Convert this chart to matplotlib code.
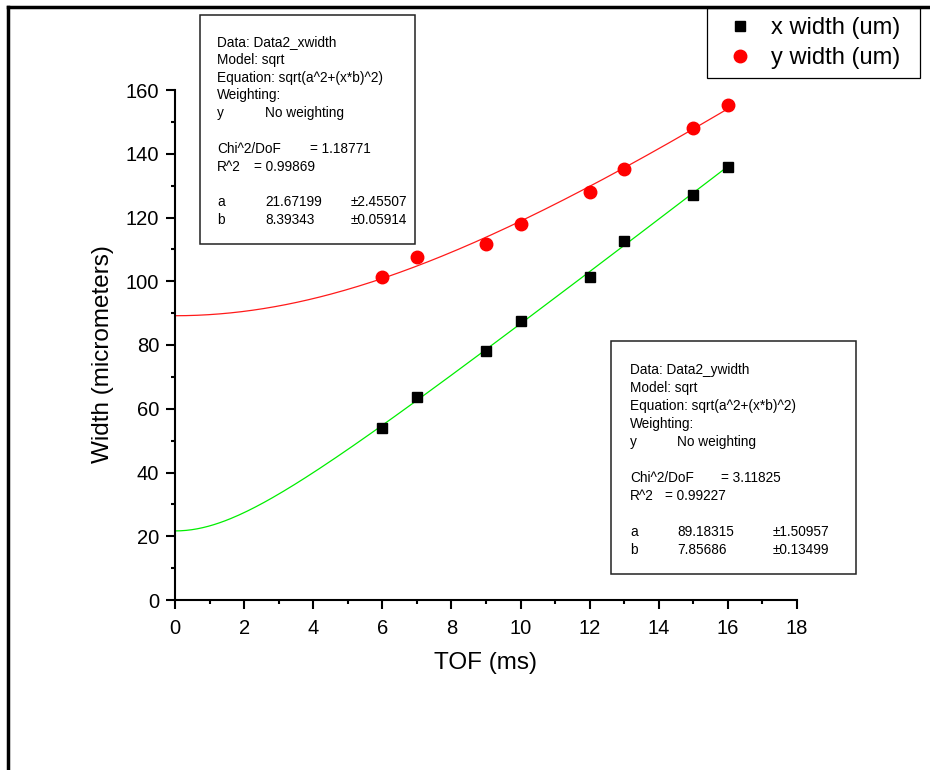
import numpy as np
import matplotlib.pyplot as plt
from matplotlib.lines import Line2D
from matplotlib.patches import Rectangle
from matplotlib.ticker import MultipleLocator

plt.rcParams['font.family'] = ['Liberation Sans', 'DejaVu Sans']

# measured points (TOF in ms, width in um)
tof = [6, 7, 9, 10, 12, 13, 15, 16]
x_width = [54.0, 63.8, 78.0, 87.6, 101.4, 112.6, 127.1, 135.9]
y_width = [101.4, 107.7, 111.8, 118.0, 128.0, 135.2, 148.1, 155.4]

# fit parameters for sqrt(a^2 + (x*b)^2)
fit_x = {'a': 21.67199, 'b': 8.39343}
fit_y = {'a': 89.18315, 'b': 7.85686}

# each row: list of (column index, text)
# columns: 0 label, 1 value, 2 error, 3 chi^2 value, 4 r^2 value
box_x_lines = [
    [(0, "Data: Data2_xwidth")],
    [(0, "Model: sqrt")],
    [(0, "Equation: sqrt(a^2+(x*b)^2)")],
    [(0, "Weighting:")],
    [(0, "y"), (1, "No weighting")],
    [],
    [(0, "Chi^2/DoF"), (3, "= 1.18771")],
    [(0, "R^2"), (4, "= 0.99869")],
    [],
    [(0, "a"), (1, "21.67199"), (2, "\u00b12.45507")],
    [(0, "b"), (1, "8.39343"), (2, "\u00b10.05914")],
]
box_y_lines = [
    [(0, "Data: Data2_ywidth")],
    [(0, "Model: sqrt")],
    [(0, "Equation: sqrt(a^2+(x*b)^2)")],
    [(0, "Weighting:")],
    [(0, "y"), (1, "No weighting")],
    [],
    [(0, "Chi^2/DoF"), (3, "= 3.11825")],
    [(0, "R^2"), (4, "= 0.99227")],
    [],
    [(0, "a"), (1, "89.18315"), (2, "\u00b11.50957")],
    [(0, "b"), (1, "7.85686"), (2, "\u00b10.13499")],
]

W, H = 930, 770
fig = plt.figure(figsize=(W / 100, H / 100), dpi=100)


def fx(px):
    return px / W


def fy(py):
    return 1 - py / H


ax = fig.add_axes([fx(175), fy(600), fx(797) - fx(175), fy(90) - fy(600)])

t = np.linspace(0, 16, 200)
ax.plot(t, np.sqrt(fit_x['a'] ** 2 + (t * fit_x['b']) ** 2), color='#00ee00', lw=0.9, zorder=2)
ax.plot(t, np.sqrt(fit_y['a'] ** 2 + (t * fit_y['b']) ** 2), color='#ff1a1a', lw=0.9, zorder=2)
ax.plot(tof, x_width, 's', color='black', ms=7.5, label='x width (um)', zorder=3)
ax.plot(tof, y_width, 'o', color='red', ms=9, label='y width (um)', zorder=3)

ax.set_xlim(0, 18)
ax.set_ylim(0, 160)
ax.xaxis.set_major_locator(MultipleLocator(2))
ax.xaxis.set_minor_locator(MultipleLocator(1))
ax.yaxis.set_major_locator(MultipleLocator(20))
ax.yaxis.set_minor_locator(MultipleLocator(10))
for s in ['top', 'right']:
    ax.spines[s].set_visible(False)
for s in ['left', 'bottom']:
    ax.spines[s].set_linewidth(1.5)
ax.tick_params(which='major', direction='out', length=6.5, width=1.5, labelsize=14.5)
ax.tick_params(which='minor', direction='out', length=3, width=1.5)
ax.tick_params(axis='x', which='major', pad=7)
ax.tick_params(axis='y', which='major', pad=5)
ax.set_xlabel('TOF (ms)', fontsize=17.5, labelpad=10.5)
ax.set_ylabel('Width (micrometers)', fontsize=17.5)
ax.yaxis.set_label_coords(-0.098, 0.483)

leg = ax.legend(loc='upper left', mode='expand',
                bbox_to_anchor=(fx(707), fy(75), fx(920) - fx(707), fy(8) - fy(75)),
                bbox_transform=fig.transFigure, borderaxespad=0,
                fontsize=17, frameon=True, fancybox=False, edgecolor='black', framealpha=1,
                handletextpad=0.35, borderpad=0.38, labelspacing=0.36, handlelength=2.0)
leg.get_frame().set_linewidth(0.9)


def stat_box(x0, y0, x1, y1, lines, cols, top_line, step):
    fig.add_artist(Rectangle((fx(x0), fy(y1)), fx(x1) - fx(x0), fy(y0) - fy(y1),
                             transform=fig.transFigure, fill=True, facecolor='white',
                             edgecolor='#222222', lw=1.1, zorder=5))
    for i, row in enumerate(lines):
        py = top_line + i * step
        for col, txt in row:
            fig.text(fx(cols[col]), fy(py), txt, fontsize=9.8, va='center', ha='left', zorder=6)


stat_box(200, 15, 415, 244, box_x_lines, (217, 265, 351, 310, 254), 42, 17.8)
stat_box(611, 341, 856, 574, box_y_lines, (630, 677, 773, 721, 665), 370, 18.0)

# page border lines (top and left)
fig.add_artist(Line2D([fx(8), 1], [fy(7), fy(7)], transform=fig.transFigure, color='black', lw=2.5))
fig.add_artist(Line2D([fx(8), fx(8)], [0, fy(7)], transform=fig.transFigure, color='black', lw=2.5))

fig.savefig('out.png', dpi=100)
